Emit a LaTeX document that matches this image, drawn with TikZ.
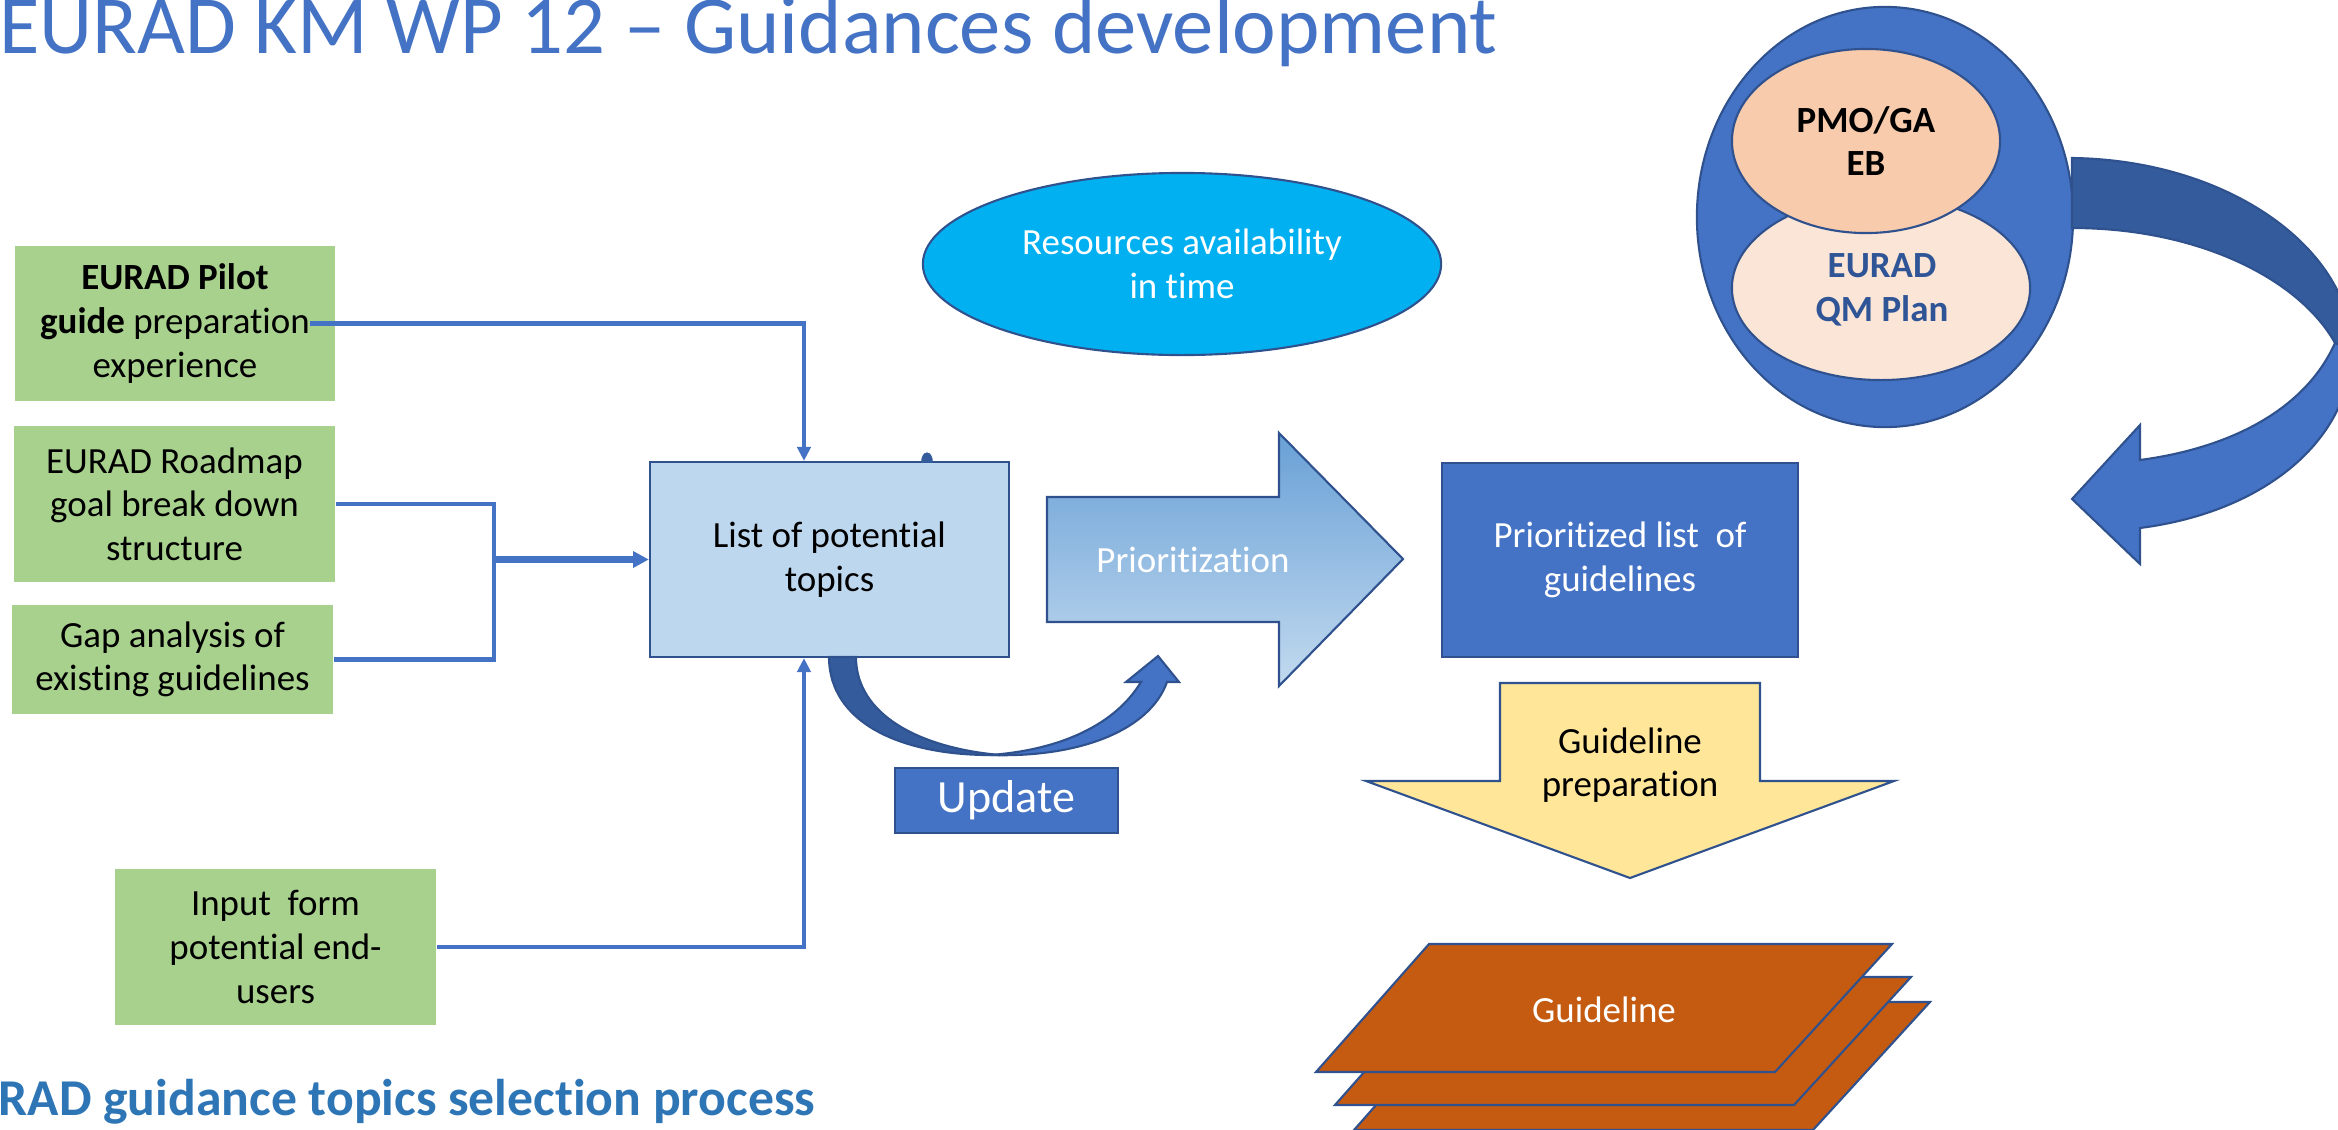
\documentclass[tikz,border=0pt]{standalone}
\usepackage{fontspec}
\setmainfont{Carlito}[Ligatures=NoCommon]
\usetikzlibrary{shapes.geometric,arrows.meta}
\definecolor{accent}{HTML}{4472C4}
\definecolor{bordb}{HTML}{2F528F}
\definecolor{curvedark}{HTML}{345B9B}
\definecolor{lightblue}{HTML}{BDD7EE}
\definecolor{greenf}{HTML}{A9D18E}
\definecolor{cyanf}{HTML}{00B0F0}
\definecolor{peach}{HTML}{F8CBAD}
\definecolor{lpeach}{HTML}{FBE5D6}
\definecolor{yellowf}{HTML}{FFE699}
\definecolor{orangef}{HTML}{C55A11}
\definecolor{capblue}{HTML}{2E75B6}
\definecolor{qmtext}{HTML}{2F5597}
\definecolor{gradtop}{HTML}{69A0D6}
\definecolor{gradbot}{HTML}{C2DAEF}
\newcommand\myBodyFont{\fontsize{10.5}{12.4}\selectfont}
\begin{document}
\begin{tikzpicture}[x=0.01cm,y=-0.01cm,
  greenbox/.style={rectangle, fill=greenf, draw=none, align=center, font=\myBodyFont, inner sep=0pt},
  shapeline/.style={draw=bordb, line width=0.6pt},
  conn/.style={draw=accent, line width=1.3pt},
  arr/.style={conn, -{Triangle[length=4pt,width=3.8pt]}},
  txt/.style={align=center, font=\myBodyFont, inner sep=0pt},
  ell/.style={ellipse, shapeline, inner sep=0pt, align=center}
]
\useasboundingbox (0,0) rectangle (2338,1130);

% title and caption
\node[anchor=base east, text=accent, font=\fontsize{23.5}{28}\selectfont, inner sep=0pt] (title) at (1498,53) {EURAD KM WP 12 – Guidances development};
\node[anchor=base east, text=capblue, font=\bfseries\fontsize{14.7}{17}\selectfont, inner sep=0pt] (caption) at (816,1115) {EURAD guidance topics selection process};

% input boxes
\node[greenbox, minimum width=3.2cm, minimum height=1.55cm] (b1) at (175,323.5) {\textbf{EURAD Pilot}\\\textbf{guide} preparation\\experience};
\node[greenbox, minimum width=3.21cm, minimum height=1.56cm] (b2) at (174.5,504) {EURAD Roadmap\\goal break down\\structure};
\node[greenbox, minimum width=3.21cm, minimum height=1.09cm] (b3) at (172.5,659.5) {Gap analysis of\\existing guidelines};
\node[greenbox, minimum width=3.21cm, minimum height=1.56cm] (b4) at (275.5,947) {Input\ \ form\\potential end-\\users};

% list of potential topics
\node[rectangle, shapeline, fill=lightblue, txt, minimum width=3.59cm, minimum height=1.95cm] (list) at (829.5,559.5) {List of potential\\topics};
\fill[curvedark] (921,463) .. controls (921,449) and (933,449) .. (933,463) -- cycle;

% connectors
\coordinate (J) at (494,559.5);
\draw[arr] ([xshift=-0.26cm]b1.east) -| ([xshift=-0.255cm]list.north);
\draw[conn] (b2.east) -| (J) |- (b3.east);
\draw[conn, line width=1.8pt, -{Triangle[length=4.5pt,width=4.5pt]}] (J) -- (list.west);
\draw[arr] (b4.east) -| ([xshift=-0.255cm]list.south);

% resources ellipse
\node[ell, fill=cyanf, text=white, font=\myBodyFont, minimum width=5.18cm, minimum height=1.82cm] (res) at (1182,264) {Resources availability\\in time};

% prioritization arrow
\path[shapeline, top color=gradtop, bottom color=gradbot] (1047,497) -- (1279,497) -- (1279,433) -- (1403,559) -- (1279,686) -- (1279,622) -- (1047,622) -- cycle;
\node[txt, text=white] (prio) at (1193,560) {Prioritization};

% prioritized list
\node[rectangle, shapeline, fill=accent, txt, text=white, minimum width=3.56cm, minimum height=1.94cm] (plist) at (1620,560) {Prioritized list\ \ of\\guidelines};

% update curved arrow
\path[fill=curvedark, shapeline] (829,657) .. controls (829,722) and (900,757) .. (1000,755) .. controls (920,748) and (856,715) .. (856,657) -- cycle;
\path[fill=accent, shapeline] (990,755) .. controls (1080,758) and (1150,730) .. (1167,682) -- (1179,682) -- (1158,656) -- (1126,682) -- (1141,682) .. controls (1115,725) and (1060,750) .. (990,755) -- cycle;
\node[rectangle, shapeline, fill=accent, text=white, font=\fontsize{13.1}{15}\selectfont, inner sep=0pt, minimum width=2.23cm, minimum height=0.65cm] (upd) at (1006.5,800.5) {Update};

% guideline preparation arrow
\path[fill=yellowf, shapeline] (1500,683) -- (1760,683) -- (1760,781) -- (1894,781) -- (1630,878) -- (1366,781) -- (1500,781) -- cycle;
\node[txt] (gprep) at (1630,765) {Guideline\\preparation};

% guideline stack
\path[fill=orangef, shapeline] (1467,1002) -- (1930,1002) -- (1813,1130) -- (1354,1130) -- cycle;
\path[fill=orangef, shapeline] (1448,977) -- (1911,977) -- (1794,1105) -- (1335,1105) -- cycle;
\path[fill=orangef, shapeline] (1429,944) -- (1892,944) -- (1775,1072) -- (1316,1072) -- cycle;
\node[txt, text=white] (guide) at (1604,1010) {Guideline};

% governance ellipses
\node[ell, fill=accent, minimum width=3.76cm, minimum height=4.2cm] (outer) at (1885,217) {};
\node[ell, fill=lpeach, text=qmtext, font=\bfseries\myBodyFont, minimum width=2.98cm, minimum height=1.84cm] (qm) at (1881,288) {};
\node[ell, fill=peach, font=\bfseries\myBodyFont, minimum width=2.68cm, minimum height=1.84cm] (pmo) at (1866,141) {PMO/GA\\EB};
\node[txt, text=qmtext, font=\bfseries\myBodyFont] (qmtxt) at (1882,290) {EURAD\\QM Plan};

% right curved arrow
\path[fill=curvedark, shapeline] (2072,158) .. controls (2230,160) and (2352,250) .. (2352,350) -- (2335,343) .. controls (2300,280) and (2200,228) .. (2072,228) -- cycle;
\path[fill=accent, shapeline] (2352,350) .. controls (2350,440) and (2265,512) .. (2140,528) -- (2140,564) -- (2072,499) -- (2140,425) -- (2140,460) .. controls (2230,448) and (2305,410) .. (2335,343) -- cycle;
\end{tikzpicture}
\end{document}
